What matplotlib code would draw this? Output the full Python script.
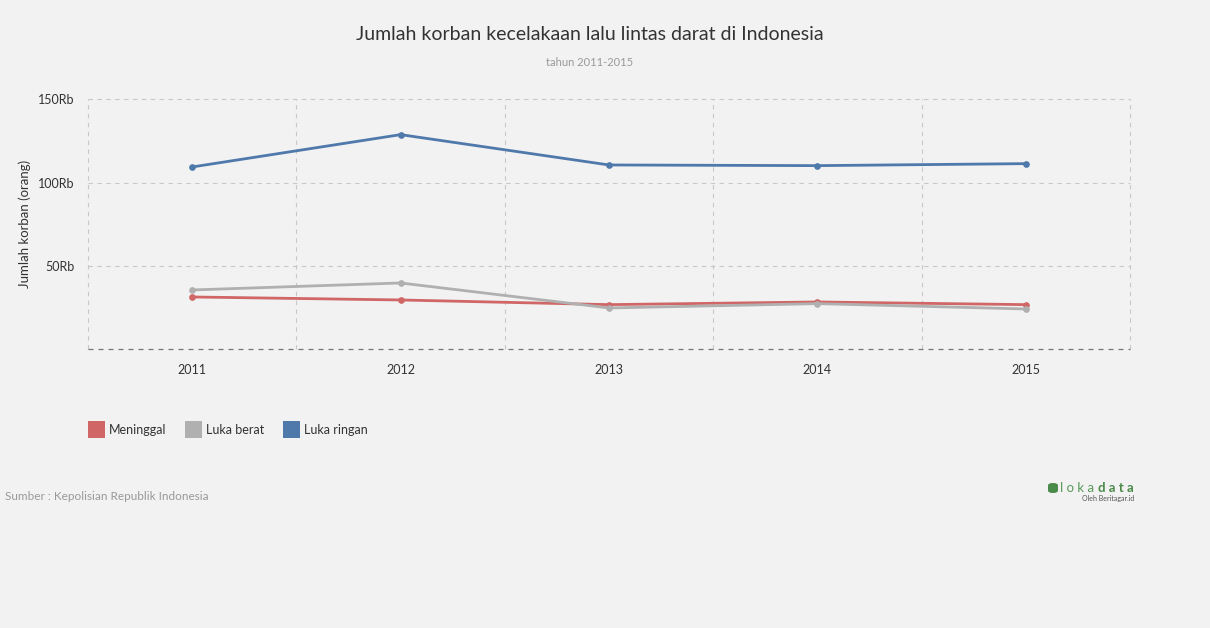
import matplotlib
matplotlib.use("Agg")
import matplotlib.pyplot as plt
from matplotlib.patches import Patch, FancyBboxPatch

years = ["2011", "2012", "2013", "2014", "2015"]
meninggal = [31400, 29600, 26800, 28400, 26800]
luka_berat = [35600, 39800, 24800, 27400, 24200]
luka_ringan = [109400, 128800, 110600, 110200, 111400]
series_names = ["Meninggal", "Luka berat", "Luka ringan"]
colors = ["#d06666", "#b0b0b0", "#4f79ab"]
yticks = [50000, 100000, 150000]
ytick_labels = ["50Rb", "100Rb", "150Rb"]

plt.rcParams['font.family'] = ['Lato', 'DejaVu Sans']
W, H = 1210, 628
fig = plt.figure(figsize=(W / 100, H / 100), dpi=100, facecolor="#f2f2f2")
ax = fig.add_axes([88 / W, 1 - 349.3 / H, (1130 - 88) / W, (349.3 - 99.3) / H])
ax.set_facecolor("#f2f2f2")

x = list(range(len(years)))
for vals, c in zip([meninggal, luka_berat, luka_ringan], colors):
    ax.plot(x, vals, color=c, lw=2.0, marker="o", ms=3.8, solid_capstyle="round", zorder=3)

ax.set_xlim(-0.5, len(years) - 0.5)
ax.set_ylim(0, 150000)
ax.set_yticks(yticks)
ax.set_yticklabels(ytick_labels)
ax.set_xticks(x)
ax.set_xticklabels(years)
for s in ax.spines.values():
    s.set_visible(False)
ax.tick_params(length=0, labelsize=9, colors="#333333")
ax.tick_params(axis="x", pad=10.5)
ax.tick_params(axis="y", pad=9.5)

grid_kw = dict(color="#c8c8c8", lw=0.8, ls=(0, (4, 4)), zorder=1, clip_on=False)
for yv in yticks:
    ax.axhline(yv, **grid_kw)
for xv in [i - 0.5 for i in range(len(years) + 1)]:
    ax.axvline(xv, **grid_kw)
ax.axhline(0, color="#777777", lw=0.9, ls=(0, (4, 4)), zorder=2, clip_on=False)

ax.set_ylabel("Jumlah korban (orang)", fontsize=9.5, color="#333333")
ax.yaxis.set_label_coords(-(88 - 31) / (1130 - 88), 0.5)

fig.text(590 / W, 1 - 34 / H, "Jumlah korban kecelakaan lalu lintas darat di Indonesia",
         ha="center", va="center", fontsize=14, color="#333333")
fig.text(590 / W, 1 - 62 / H, "tahun 2011-2015", ha="center", va="center",
         fontsize=8, color="#999999")

handles = [Patch(facecolor=c, edgecolor="none") for c in colors]
fig.legend(handles, series_names, loc="upper left", bbox_to_anchor=(88 / W, 1 - 421 / H),
           ncol=3, frameon=False, fontsize=9, handlelength=1.33, handleheight=1.72,
           handletextpad=0.3, columnspacing=1.55, labelcolor="#333333",
           borderpad=0, borderaxespad=0)

fig.text(5 / W, 1 - 497 / H, "Sumber : Kepolisian Republik Indonesia", ha="left", va="center",
         fontsize=8.5, color="#999999")
# logo
fig.text(1134 / W, 1 - 488 / H, "d a t a", ha="right", va="center",
         fontsize=9.5, color="#4a8a4a", weight="bold")
fig.text(1097 / W, 1 - 488 / H, "l o k a ", ha="right", va="center",
         fontsize=9.5, color="#5a9a5a")
fig.text(1134 / W, 1 - 498.5 / H, "Oleh Beritagar.id", ha="right", va="center",
         fontsize=5, color="#555555")
fig.patches.append(FancyBboxPatch((1048 / W, 1 - 493 / H), 10 / W, 10 / H,
                                  boxstyle="round,pad=0,rounding_size=0.004",
                                  transform=fig.transFigure, facecolor="#4a8a4a",
                                  edgecolor="none"))

fig.savefig("out.png", dpi=100, facecolor=fig.get_facecolor())
